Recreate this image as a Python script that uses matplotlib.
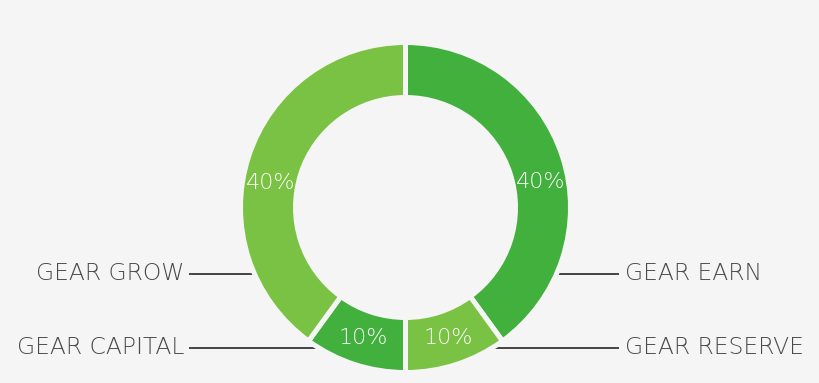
import matplotlib
matplotlib.use("Agg")
from matplotlib import pyplot as plt
import numpy as np

# donut: allocation of the gear funds, clockwise from 12 o'clock
names = ["GEAR EARN", "GEAR RESERVE", "GEAR CAPITAL", "GEAR GROW"]
shares = [40, 10, 10, 40]
colors = ["#42b03d", "#7ac243", "#42b03d", "#7ac243"]

bg = "#f5f5f5"
fig = plt.figure(figsize=(8.2, 3.83), dpi=100, facecolor=bg)
ax = fig.add_axes([0, 0, 1, 1])

cx, cy, r_out, r_in = 405.5, 175.5, 165, 110

ax.pie(shares, colors=colors, startangle=90, counterclock=False,
       center=(cx, cy), radius=r_out, frame=True,
       wedgeprops=dict(width=r_out - r_in, edgecolor=bg, linewidth=3.6, zorder=3))
# hole covers the callout lines
ax.add_patch(plt.Circle((cx, cy), r_in, color=bg, zorder=2))
ax.set_xlim(0, 820)
ax.set_ylim(0, 383)
ax.set_aspect("equal")
ax.axis("off")

font = ["DejaVu Sans"]

# percentage labels inside the ring
label_angles = [10.6, 288, 252, 169.7]
r_lab = 137
for s, a in zip(shares, label_angles):
    t = np.radians(a)
    ax.text(cx + r_lab * np.cos(t), cy + r_lab * np.sin(t), f"{s}%",
            color="white", fontsize=16, family=font, fontweight="light",
            ha="center", va="center", zorder=5)

# callout lines and names
line_y = {"GEAR EARN": 109, "GEAR RESERVE": 35, "GEAR CAPITAL": 35, "GEAR GROW": 109}
for n in names:
    y = line_y[n]
    if n in ("GEAR EARN", "GEAR RESERVE"):
        ax.plot([cx, 618], [y, y], color="#444444", lw=1.4, zorder=1)
        ax.text(625, y, n, color="#4a4a4a", fontsize=16.8, family=font,
                fontweight="light", ha="left", va="center")
    else:
        ax.plot([190, cx], [y, y], color="#444444", lw=1.4, zorder=1)
        ax.text(184, y, n, color="#4a4a4a", fontsize=16.8, family=font,
                fontweight="light", ha="right", va="center")

fig.savefig("out.png", dpi=100, facecolor=bg)
